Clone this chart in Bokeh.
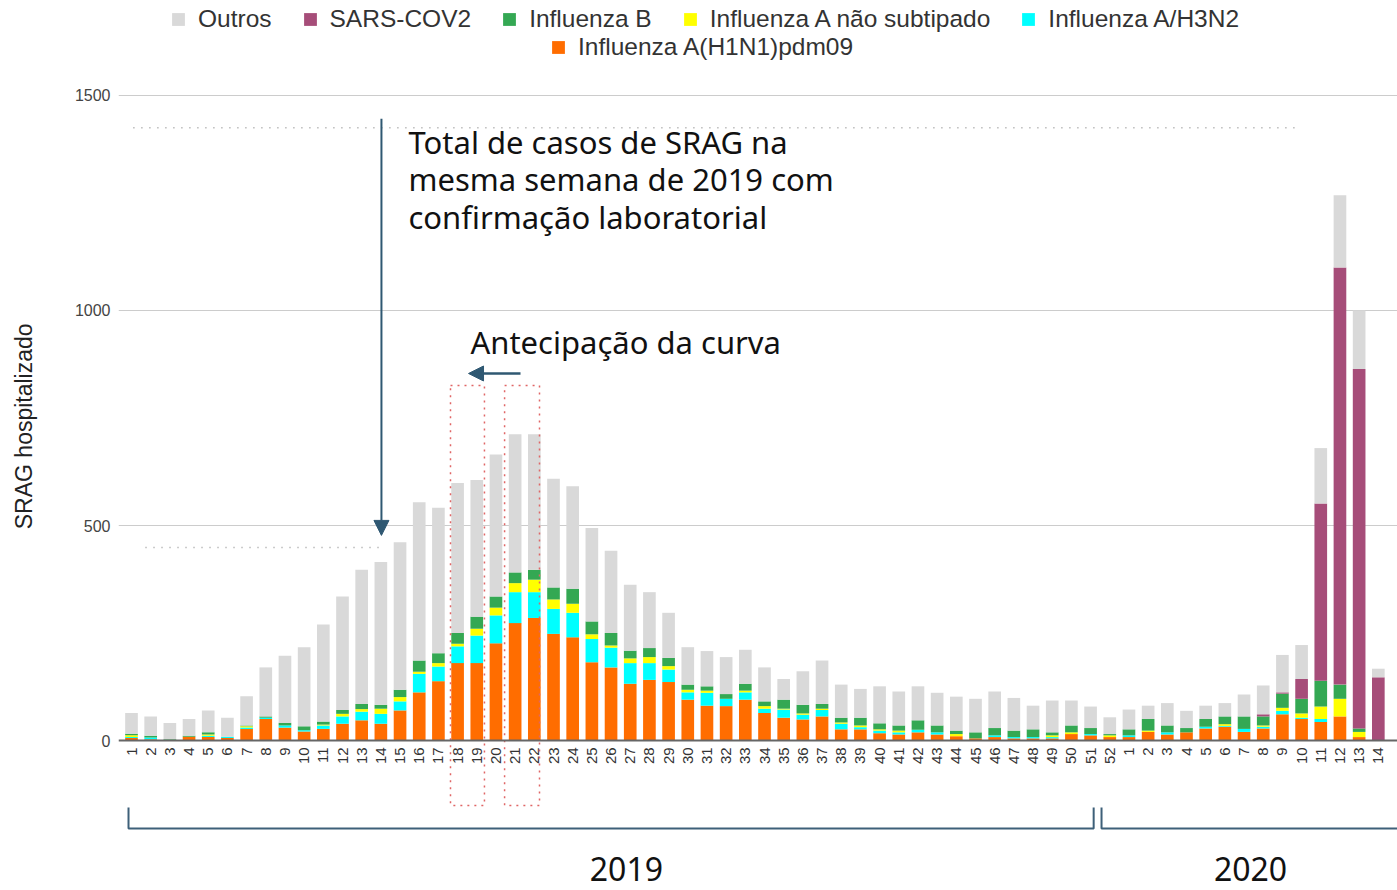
import math
from bokeh.plotting import figure
from bokeh.models import (ColumnDataSource, Range1d, FixedTicker, Legend, LegendItem,
                          Span, Arrow, NormalHead)
from bokeh.core.properties import value
from bokeh.embed import file_html
from bokeh.resources import INLINE

# ---------------- data ----------------
week_labels = [str(i) for i in range(1, 53)] + [str(i) for i in range(1, 15)]

h1n1 = [6, 3, 0, 9, 8, 6, 27, 50, 30, 21, 27, 39, 47, 39, 70, 112, 138, 180, 180, 226,
        273, 285, 248, 240, 182, 170, 132, 141, 136, 95, 81, 80, 95, 64, 53, 49, 56, 26,
        26, 17, 14, 19, 14, 10, 5, 8, 5, 5, 5, 15, 12, 8,
        8, 20, 14, 19, 28, 32, 20, 28, 61, 50, 43, 56, 8, 0]
h3n2 = [2, 4, 0, 0, 3, 3, 3, 3, 5, 3, 8, 17, 20, 23, 21, 43, 34, 39, 64, 65,
        72, 60, 58, 57, 54, 46, 48, 39, 29, 17, 30, 17, 17, 10, 19, 11, 15, 13,
        5, 6, 5, 6, 5, 0, 0, 4, 3, 3, 3, 0, 3, 0,
        4, 0, 5, 0, 4, 2, 7, 4, 8, 3, 7, 0, 0, 0]
a_nao_sub = [4, 0, 0, 0, 3, 0, 3, 0, 0, 0, 2, 6, 6, 12, 10, 5, 8, 6, 16, 18,
             21, 29, 22, 21, 11, 5, 11, 14, 8, 6, 5, 0, 4, 6, 2, 3, 3, 3,
             4, 3, 4, 0, 0, 5, 0, 0, 0, 0, 4, 4, 0, 4,
             0, 3, 0, 0, 0, 4, 0, 3, 7, 10, 29, 41, 12, 0]
flu_b = [4, 4, 3, 2, 5, 0, 2, 3, 6, 9, 7, 9, 12, 9, 17, 26, 23, 25, 28, 26,
         25, 23, 28, 35, 30, 29, 18, 21, 19, 12, 10, 11, 16, 11, 21, 20, 11, 11,
         18, 14, 12, 22, 16, 8, 14, 17, 15, 18, 7, 16, 14, 3,
         14, 27, 16, 10, 18, 18, 29, 21, 33, 34, 60, 33, 8, 0]
sars_cov2 = [0] * 52 + [0, 0, 0, 0, 0, 0, 0, 5, 3, 46, 412, 970, 836, 147]
outros = [48, 45, 38, 39, 51, 44, 68, 114, 156, 184, 226, 264, 312, 332, 343, 368, 338, 349, 318, 330,
          321, 315, 253, 238, 217, 191, 153, 130, 105, 87, 82, 86, 79, 79, 48, 78, 101, 77,
          67, 86, 79, 79, 76, 79, 78, 85, 76, 55, 74, 58, 50, 39,
          46, 31, 52, 40, 31, 31, 51, 67, 87, 79, 129, 168, 136, 20]

series = ["h1n1", "h3n2", "a_nao_sub", "flu_b", "sars_cov2", "outros"]
series_names = ["Influenza A(H1N1)pdm09", "Influenza A/H3N2", "Influenza A não subtipado",
                "Influenza B", "SARS-COV2", "Outros"]
colors = ["#ff6d00", "#00ffff", "#ffff00", "#34a853", "#a64d79", "#d9d9d9"]

# annotation values
ref_total_2019_line = 1425
ref_week14_line = 449

x_idx = list(range(len(week_labels)))
src = ColumnDataSource(dict(x=x_idx, h1n1=h1n1, h3n2=h3n2, a_nao_sub=a_nao_sub,
                            flu_b=flu_b, sars_cov2=sars_cov2, outros=outros))

# ---------------- figure ----------------
p = figure(width=1397, height=890, output_backend="svg", toolbar_location=None,
           x_range=Range1d(-0.678, 66.0), y_range=Range1d(-348.8, 1720.9),
           min_border_left=118, min_border_right=0, min_border_top=0, min_border_bottom=0)
p.outline_line_color = None
p.xaxis.visible = False
p.xgrid.visible = False
p.yaxis.ticker = FixedTicker(ticks=[0, 500, 1000, 1500])
p.ygrid.ticker = FixedTicker(ticks=[500, 1000, 1500])
p.ygrid.grid_line_color = "#cccccc"
p.ygrid.grid_line_width = 1
p.yaxis.axis_line_color = None
p.yaxis.major_tick_line_color = None
p.yaxis.minor_tick_line_color = None
p.yaxis.major_tick_out = 0
p.yaxis.major_label_standoff = 8
p.yaxis.major_label_text_font = "Liberation Sans"
p.yaxis.major_label_text_font_size = "16px"
p.yaxis.major_label_text_color = "#444444"
p.yaxis.axis_label = "\u00a0" * 6 + "SRAG hospitalizado"
p.yaxis.axis_label_text_font = "Liberation Sans"
p.yaxis.axis_label_text_font_size = "23px"
p.yaxis.axis_label_text_font_style = "normal"
p.yaxis.axis_label_text_color = "#222222"
p.yaxis.axis_label_standoff = 35

renderers = p.vbar_stack(series, x="x", width=0.66, color=colors, source=src, line_width=0)

p.add_layout(Span(location=0, dimension="width", line_color="#666666", line_width=2))

# week labels
p.text(x=x_idx, y=[-16] * len(x_idx), text=week_labels, angle=math.pi / 2,
       text_align="right", text_baseline="middle", text_font=value("Liberation Sans"),
       text_font_size="15px", text_color="#333333")

# legends
rmap = dict(zip(series_names, renderers))
row1 = ["Outros", "SARS-COV2", "Influenza B", "Influenza A não subtipado", "Influenza A/H3N2"]
row2 = ["Influenza A(H1N1)pdm09"]
for names, loc in ((row1, (52, 857)), (row2, (432, 829))):
    leg = Legend(items=[LegendItem(label=n, renderers=[rmap[n]]) for n in names],
                 orientation="horizontal", location=loc, padding=0, margin=0,
                 spacing=30, label_standoff=12, glyph_width=16, glyph_height=16,
                 label_text_font="Liberation Sans", label_text_font_size="24.5px",
                 label_text_color="#333333", border_line_color=None,
                 background_fill_alpha=0)
    p.add_layout(leg)

# dotted reference lines
dot = "#999999"
p.line(x=[0.1, 60.7], y=[ref_total_2019_line] * 2, line_dash="1 7", line_color=dot, line_width=1.5)
p.line(x=[0.73, 13.0], y=[ref_week14_line] * 2, line_dash="1 7", line_color=dot, line_width=1.5)

arrow_c = "#2f5872"
p.add_layout(Arrow(end=NormalHead(size=15, fill_color=arrow_c, line_color=arrow_c),
                   x_start=13.03, y_start=1446, x_end=13.03, y_end=477,
                   line_color=arrow_c, line_width=2))
p.add_layout(Arrow(end=NormalHead(size=15, fill_color=arrow_c, line_color=arrow_c),
                   x_start=20.28, y_start=853.5, x_end=17.57, y_end=853.5,
                   line_color=arrow_c, line_width=2.5))

# red dotted boxes
p.quad(left=[16.63, 19.45], right=[18.40, 21.27], top=[825.6, 825.6], bottom=[-151, -151],
       fill_alpha=0, line_color="#e06666", line_dash="2 5", line_width=1.5)

# annotation texts
ann_font = value("Noto Sans")
p.text(x=[14.44] * 3, y=[1393, 1304.7, 1216.4],
       text=["Total de casos de SRAG na", "mesma semana de 2019 com", "confirmação laboratorial"],
       text_font=ann_font, text_font_size="31px", text_color="#111111", text_baseline="alphabetic")
p.text(x=[17.67], y=[925.7], text=["Antecipação da curva"], text_font=ann_font,
       text_font_size="31px", text_color="#111111", text_baseline="alphabetic")

# year brackets
br_c = "#3e6079"
p.line(x=[-0.156, -0.156, 50.16, 50.16], y=[-156, -204.7, -204.7, -156], line_color=br_c, line_width=2)
p.line(x=[50.57, 50.57, 66.0], y=[-156, -204.7, -204.7], line_color=br_c, line_width=2)
p.text(x=[25.8, 58.34], y=[-299, -299], text=["2019", "2020"], text_font=ann_font,
       text_font_size="32px", text_color="#111111", text_align="center", text_baseline="alphabetic")

open("out.html", "w").write(file_html(p, INLINE))
